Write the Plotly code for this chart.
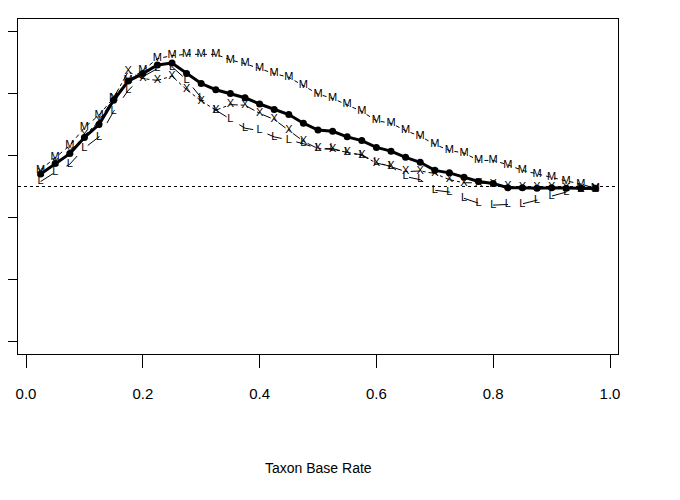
import plotly.graph_objects as go

base_rate = [0.025, 0.05, 0.075, 0.1, 0.125, 0.15, 0.175, 0.2, 0.225, 0.25,
             0.275, 0.3, 0.325, 0.35, 0.375, 0.4, 0.425, 0.45, 0.475, 0.5,
             0.525, 0.55, 0.575, 0.6, 0.625, 0.65, 0.675, 0.7, 0.725, 0.75,
             0.775, 0.8, 0.825, 0.85, 0.875, 0.9, 0.925, 0.95, 0.975]

solid_vals = [2.70, 2.87, 3.03, 3.29, 3.50, 3.89, 4.20, 4.32, 4.46, 4.49,
              4.32, 4.16, 4.06, 4.00, 3.93, 3.83, 3.74, 3.66, 3.52, 3.41,
              3.39, 3.30, 3.24, 3.13, 3.07, 2.97, 2.89, 2.76, 2.72, 2.65,
              2.58, 2.55, 2.48, 2.48, 2.47, 2.48, 2.47, 2.47, 2.47]

m_vals = [2.77, 2.97, 3.16, 3.45, 3.65, 3.93, 4.21, 4.37, 4.56, 4.61,
          4.63, 4.63, 4.63, 4.54, 4.48, 4.40, 4.32, 4.26, 4.13, 3.99,
          3.92, 3.82, 3.71, 3.56, 3.52, 3.40, 3.31, 3.18, 3.08, 3.04,
          2.92, 2.92, 2.85, 2.76, 2.70, 2.65, 2.59, 2.54, 2.47]

x_vals = [2.71, 2.87, 3.05, 3.32, 3.55, 3.93, 4.35, 4.24, 4.21, 4.28,
          4.06, 3.88, 3.73, 3.82, 3.81, 3.68, 3.58, 3.41, 3.23, 3.11,
          3.10, 3.05, 3.00, 2.88, 2.82, 2.74, 2.75, 2.71, 2.61, 2.56,
          2.56, 2.54, 2.50, 2.49, 2.49, 2.49, 2.47, 2.46, 2.46]

l_vals = [2.58, 2.73, 2.86, 3.12, 3.30, 3.71, 4.05, 4.27, 4.40, 4.43,
          4.22, 3.93, 3.73, 3.58, 3.44, 3.40, 3.30, 3.25, 3.19, 3.11,
          3.11, 3.05, 3.01, 2.89, 2.82, 2.66, 2.61, 2.44, 2.41, 2.31,
          2.23, 2.20, 2.21, 2.22, 2.28, 2.34, 2.41, 2.45, 2.46]

ref_level = 2.5
x_ticks = [0.0, 0.2, 0.4, 0.6, 0.8, 1.0]
x_ticktext = ["0.0", "0.2", "0.4", "0.6", "0.8", "1.0"]
y_ticks = [0, 1, 2, 3, 4, 5]

FONT = "Liberation Sans, Arial, sans-serif"

fig = go.Figure()

# letter-coded series drawn as text points joined by patterned lines
for vals, letter, dash in [(m_vals, "M", "4px,4px"),
                           (x_vals, "X", "dashdot"),
                           (l_vals, "L", "longdash")]:
    fig.add_trace(go.Scatter(x=base_rate, y=vals, mode="lines+text",
                             text=[letter] * len(vals),
                             textposition="middle center",
                             textfont=dict(family=FONT, size=11, color="black"),
                             line=dict(color="black", width=1, dash=dash),
                             showlegend=False, hoverinfo="skip"))

fig.add_trace(go.Scatter(x=base_rate, y=solid_vals, mode="lines+markers",
                         line=dict(color="black", width=3),
                         marker=dict(color="black", size=7),
                         showlegend=False))

fig.add_shape(type="line", xref="paper", x0=0, x1=1, yref="y",
              y0=ref_level, y1=ref_level,
              line=dict(color="black", width=1, dash="dot"))

fig.add_annotation(text="Taxon Base Rate", xref="paper", yref="paper",
                   x=0.5, y=-0.34, showarrow=False, yanchor="middle",
                   font=dict(family=FONT, size=14, color="black"))

fig.update_xaxes(range=[-0.0137, 1.0137], tickvals=x_ticks, ticktext=x_ticktext,
                 ticks="outside", ticklen=13, tickcolor="black", tickwidth=1,
                 ticklabelstandoff=13, automargin=False,
                 showline=True, mirror=True, linecolor="black", linewidth=1,
                 showgrid=False, zeroline=False,
                 tickfont=dict(family=FONT, size=15, color="black"))
fig.update_yaxes(range=[-0.2, 5.2], tickvals=y_ticks, showticklabels=False,
                 ticks="outside", ticklen=13, tickcolor="black", tickwidth=1,
                 automargin=False,
                 showline=True, mirror=True, linecolor="black", linewidth=1,
                 showgrid=False, zeroline=False)

fig.update_layout(width=680, height=500, plot_bgcolor="white",
                  paper_bgcolor="white",
                  margin=dict(l=10, r=70, t=11, b=154),
                  font=dict(family=FONT, color="black"))

fig.write_html("out.html")
